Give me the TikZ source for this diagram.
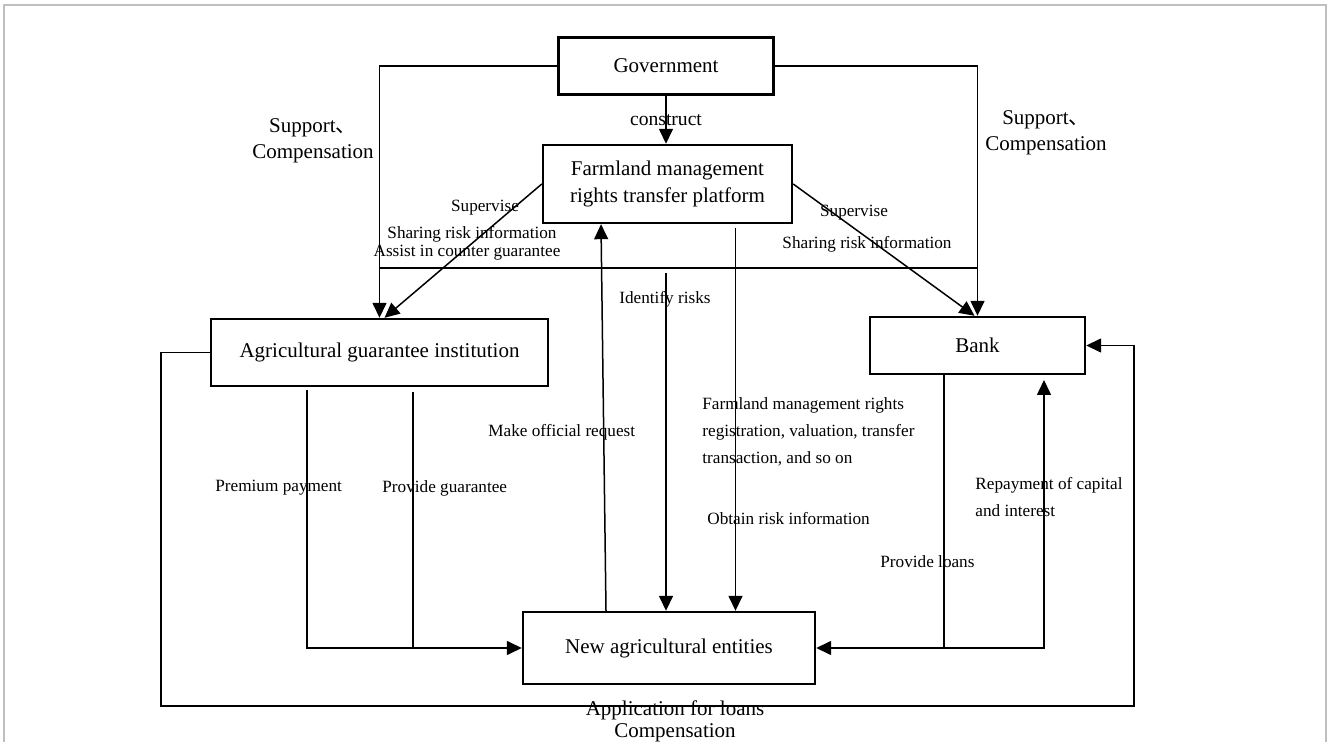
\documentclass[tikz,border=0pt]{standalone}
\usepackage{fontspec}
\setmainfont{Liberation Serif}
\newfontfamily\cjk{Noto Sans CJK SC}
\usetikzlibrary{arrows.meta,calc}

\begin{document}
\begin{tikzpicture}[x=0.5pt, y=-0.5pt, box/.style={draw, line width=1.2pt, align=center, inner sep=0pt, font=\fontsize{10.5}{13.3}\selectfont}, lbl/.style={align=center, inner sep=0pt, font=\fontsize{10.5}{13}\selectfont}, small/.style={inner sep=0pt, font=\fontsize{8.6}{13.5}\selectfont}, arr/.style={-{Triangle[length=7.5pt,width=7pt]}, line width=0.75pt}, ln/.style={line width=0.75pt}]
\useasboundingbox (0,0) rectangle (1328,742);
\draw[black!25, line width=1pt] (4,742) -- (4,5) -- (1326,5) -- (1326,742);
\node[box, minimum width=107.5pt, minimum height=28.5pt] (gov) at (666,66) {Government};
\node[box, minimum width=124.5pt, minimum height=39pt] (plat) at (667.5,184) {Farmland management\\rights transfer platform};
\node[box, minimum width=168.5pt, minimum height=33.5pt] (guar) at (379.5,352.5) {Agricultural guarantee institution};
\node[box, minimum width=107.5pt, minimum height=28.5pt] (bank) at (977.5,345.5) {Bank};
\node[box, minimum width=146pt, minimum height=36pt] (ent) at (669,648) {New agricultural entities};
\coordinate (bar) at (0,268);
\coordinate (idr) at (666,273);
\coordinate (reg) at (735.5,228);
\coordinate (pp) at (307,390);
\coordinate (pg) at (413,392);
\coordinate (lj) at (944,648);
\coordinate (rp) at (1044,380);
\coordinate (lb1) at (161,706);
\coordinate (lb2) at (1134,706);
\draw[arr] (gov.south) -- node[small, font=\fontsize{9.8}{12}\selectfont] (con) {construct} (gov.south |- plat.north);
\draw[arr] (gov.west) -| (guar.north);
\draw[arr] (gov.east) -| (bank.north);
\draw[line width=1.1pt] (guar.north |- bar) -- (bank.north |- bar);
\draw[arr] (plat.west) -- ($(guar.north)+(5,0)$);
\draw[arr] (plat.east) -- ($(bank.north)+(-3,0)$);
\draw[arr] ($(ent.north)+(-63,0)$) -- ($(plat.south)+(-66.5,0)$);
\draw[arr] (idr) -- (idr |- ent.north);
\draw[arr] (reg) -- (reg |- ent.north);
\draw[arr] (pp) |- (ent.west);
\draw[ln] (pg) -- (pg |- ent.west);
\draw[arr] (lj |- bank.south) |- (ent.east);
\draw[arr] (lj) -| (rp);
\draw[arr] (guar.west) -| (lb1) -- (lb2) |- (bank.east);
\node[lbl] (supl) at (313,141) {Support{\cjk 、}\\Compensation};
\node[lbl] (supr) at (1046,133) {Support{\cjk 、}\\Compensation};
\node[small] (gsup) at (485,208) {Supervise};
\node[small] (gshr) at (472,234) {Sharing risk information};
\node[small] (gast) at (467,253) {Assist in counter guarantee};
\node[small] (bsup) at (854,213) {Supervise};
\node[small] (bshr) at (867,244) {Sharing risk information};
\node[small] (idl) at (665,299) {Identify risks};
\node[small, anchor=west] (mor) at (488,432) {Make official request};
\node[small, anchor=west, align=left] (regl) at (702,432) {Farmland management rights\\registration, valuation, transfer\\transaction, and so on};
\node[small, anchor=west] (obt) at (707,519) {Obtain risk information};
\node[small, anchor=west] (prm) at (215,488) {Premium payment};
\node[small, anchor=west] (pgl) at (382,488) {Provide guarantee};
\node[small, anchor=west] (pls) at (880,562) {Provide loans};
\node[small, anchor=west, align=left] (rpl) at (975,497.5) {Repayment of capital\\and interest};
\node[lbl, font=\fontsize{10.5}{11}\selectfont] (app) at (675,721) {Application for loans\\Compensation};
\end{tikzpicture}
\end{document}
